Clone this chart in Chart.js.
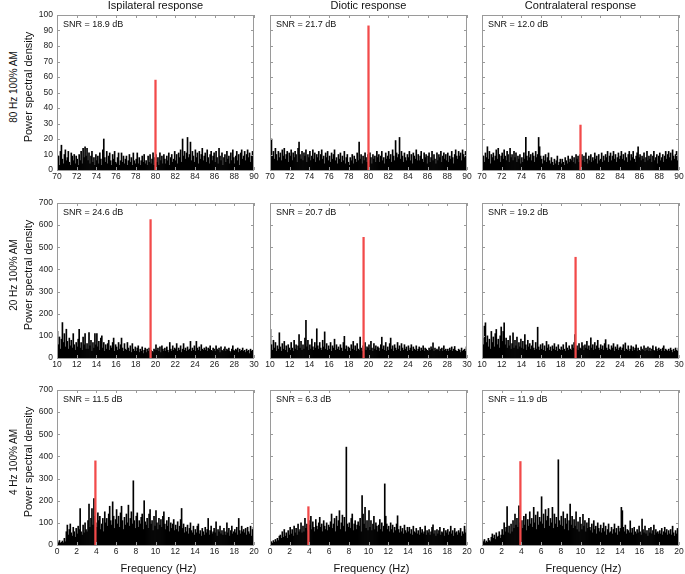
<!DOCTYPE html>
<html>
<head>
<meta charset="utf-8">
<script src="https://cdn.jsdelivr.net/npm/chart.js@4.4.1/dist/chart.umd.min.js"></script>
<style>
  body { margin: 0; background: #fff; width: 685px; height: 574px; position: relative; overflow: hidden;
         font-family: "Liberation Sans", Arial, sans-serif; color: #111; }
  canvas { position: absolute; }
  .lbl { position: absolute; white-space: nowrap; transform: translate(-50%, -50%); }
  .rot { transform: translate(-50%, -50%) rotate(-90deg); }
</style>
</head>
<body>
<script>
// column / row headings
const colTitles = ['Ispilateral response', 'Diotic response', 'Contralateral response'];
const rowTitles = ['80 Hz 100% AM', '20 Hz 100% AM', '4 Hz 100% AM'];

// frequency window of each row (Hz) and y range
const freqMin = [70, 10, 0];
const freqMax = [90, 30, 20];
const yMax = [100, 700, 700];
const yStep = [10, 100, 100];
const binWidth = 0.1;

// stimulus component (red) per row and its power per column
const peakFreq = [80, 19.5, 3.9];
const peakPsd = [
  [58, 93, 29],
  [625, 545, 455],
  [380, 173, 377]
];
const snrLabels = [
  ['SNR = 18.9 dB', 'SNR = 21.7 dB', 'SNR = 12.0 dB'],
  ['SNR = 24.6 dB', 'SNR = 20.7 dB', 'SNR = 19.2 dB'],
  ['SNR = 11.5 dB', 'SNR = 6.3 dB', 'SNR = 11.9 dB']
];

// noise spectra, one value per 0.1 Hz bin
const ipsi80 = [
  5,9,3,12,16,7,4,10,13,6, 8,12,5,3,11,9,6,10,4,9, 7,3,10,6,12,4,14,8,15,9, 14,6,11,4,9,12,5,8,3,10,
  6,9,4,11,7,3,13,20,8,5, 12,4,9,11,6,3,10,7,12,5, 4,8,11,3,6,11,5,9,4,7, 9,3,6,10,5,8,3,11,6,4,
  7,11,4,8,3,6,9,5,10,4, 6,3,9,5,10,4,7,11,3,8, 10,5,8,3,11,6,9,4,10,7, 4,9,6,11,3,8,10,5,7,12,
  6,10,4,11,8,13,5,20,9,12, 7,11,21,8,10,18,6,12,9,5, 13,8,11,4,12,7,10,14,6,9, 11,5,13,8,4,10,12,6,9,11,
  5,12,8,4,14,9,6,11,3,8, 10,5,12,7,9,4,11,6,13,8, 4,9,12,6,10,3,11,13,7,9, 12,6,10,13,8,11,5,9,12,7
];
const diotic80 = [
  13,20,9,12,7,14,10,6,12,8, 11,6,13,9,14,7,10,12,5,11, 9,13,6,11,8,12,10,5,14,18, 10,7,12,6,11,9,13,5,10,8,
  12,6,9,13,7,11,5,10,8,12, 6,10,13,7,9,4,11,8,12,6, 9,5,11,7,10,13,6,8,4,10, 7,11,5,9,6,12,4,8,10,5,
  3,8,6,10,4,9,7,5,11,6, 18,7,10,4,9,6,11,8,5,10, 6,11,8,4,10,7,9,5,12,8, 10,5,9,12,6,8,4,11,7,9,
  12,7,10,5,13,9,6,19,11,8, 10,21,7,12,9,5,11,8,6,10, 8,12,6,10,4,11,9,7,13,6, 10,6,9,12,7,5,11,8,10,4,
  9,11,5,8,12,6,10,7,4,11, 6,10,8,12,5,9,11,7,10,6, 11,5,9,7,12,8,4,10,13,9, 7,12,9,11,6,13,10,8,12,9
];
const contra80 = [
  6,9,5,11,8,15,7,12,4,10, 8,11,6,9,13,7,14,10,5,9, 11,7,13,9,6,12,10,5,14,8, 10,6,12,8,11,5,9,7,10,4,
  8,5,11,7,21,9,6,12,8,10, 6,11,9,5,12,8,10,21,15,9, 7,4,9,6,10,5,8,11,6,4, 8,5,3,7,4,6,9,3,5,7,
  4,7,5,3,8,6,4,9,5,7, 6,9,5,8,4,10,7,9,5,10, 8,10,6,9,5,11,7,4,9,6, 10,5,8,6,11,7,9,4,10,6,
  7,11,5,9,6,10,8,12,5,9, 11,6,9,12,7,10,5,8,11,7, 9,12,7,10,6,11,8,5,10,12, 6,10,8,12,7,5,9,11,15,8,
  10,6,9,7,11,5,8,12,6,9, 7,10,5,9,12,6,8,10,4,9, 11,6,8,10,5,9,12,7,10,12, 8,11,6,13,9,7,10,12,6,9
];
const ipsi20 = [
  120,60,95,40,85,160,70,110,50,130, 75,40,90,55,80,45,110,60,35,70, 50,85,130,45,70,35,95,60,110,40,
  65,40,115,55,80,30,70,45,110,60, 110,50,75,35,90,100,45,70,30,60, 40,65,80,35,55,45,70,90,30,60,
  50,35,70,40,60,90,45,30,65,40, 35,70,45,30,55,25,65,40,30,50, 30,45,55,25,40,30,50,20,35,45,
  25,40,30,45,20,35,30,25,40,35, 60,35,45,30,50,25,55,40,30,45, 30,50,35,25,70,40,30,55,35,45,
  40,65,30,45,35,55,25,40,65,35, 45,30,50,35,40,75,30,45,35,55, 30,75,45,35,50,30,60,40,35,45,
  35,50,30,45,40,55,35,30,45,40, 30,55,40,35,45,25,50,35,30,40, 50,30,40,35,45,30,25,40,55,35,
  30,40,35,45,25,40,30,35,45,30, 35,25,40,30,35,20,40,30,35,25
];
const diotic20 = [
  129,60,35,80,45,70,30,55,40,114, 50,30,65,40,75,35,55,25,60,45, 35,70,45,30,80,40,60,35,55,106,
  45,75,35,60,40,90,170,50,80,35, 60,40,85,50,35,70,45,132,55,40, 70,45,35,80,50,118,40,65,35,55,
  40,70,30,55,45,85,35,60,40,50, 35,60,45,30,70,98,40,55,30,50, 45,30,60,40,75,35,55,30,65,40,
  35,94,45,30,55,40,70,35,50,45, 60,35,75,45,30,65,40,55,35,50, 45,30,60,94,40,55,35,70,30,50,
  35,65,90,40,55,30,60,45,35,70, 40,55,30,65,45,35,60,40,50,30, 55,35,45,60,30,50,40,35,55,30,
  40,50,30,45,35,55,30,45,40,35, 30,45,35,50,40,68,30,45,35,40, 35,50,30,40,45,30,55,35,40,30,
  40,30,45,35,50,30,40,52,35,30, 30,40,35,25,45,30,35,40,30,50
];
const contra20 = [
  90,60,144,159,70,100,50,85,40,120, 70,95,50,110,129,60,85,45,100,140, 75,120,159,60,90,45,80,55,100,40,
  65,114,45,80,55,95,40,70,50,85, 45,75,40,106,60,35,80,50,65,40, 55,80,45,35,70,40,139,50,35,60,
  40,65,35,55,30,75,45,60,35,50, 30,55,40,65,35,50,30,60,40,35, 50,35,60,40,30,70,45,35,55,40,
  35,60,45,70,106,40,55,35,65,45, 40,70,55,35,60,45,75,40,55,35, 91,45,60,35,70,40,55,80,45,35,
  60,40,55,35,65,83,45,35,60,40, 35,55,45,65,30,50,40,60,35,45, 50,35,45,60,30,68,40,35,55,30,
  40,55,30,50,35,45,60,30,45,35, 30,50,40,35,55,30,45,35,50,30, 45,30,40,55,35,30,50,40,30,45,
  35,40,30,45,55,30,40,35,30,40, 30,45,35,25,40,30,45,35,30,45
];
const ipsi4 = [
  15,10,20,8,12,18,10,30,15,60, 90,45,70,95,55,40,80,60,35,75, 50,85,70,165,60,45,90,55,100,70,
  60,110,185,80,120,165,90,210,130,100, 80,145,110,130,70,95,120,60,150,100, 120,85,140,175,110,90,195,130,75,115,
  160,95,130,80,145,175,110,70,125,90, 140,100,180,85,120,150,95,290,110,75, 130,145,80,110,95,125,140,70,200,105,
  90,120,75,140,160,95,110,65,130,85, 155,100,70,120,90,115,80,130,150,95, 70,110,85,125,60,100,75,95,115,65,
  90,70,105,60,85,115,165,75,95,55, 80,60,90,50,75,100,65,55,85,45, 70,55,85,95,50,65,40,75,60,45,
  80,55,70,120,45,65,85,50,60,75, 55,105,40,70,60,85,50,65,45,75, 60,45,100,55,75,40,65,85,50,60,
  70,55,80,45,120,65,50,85,60,70, 55,75,45,80,60,50,85,40,70,80
];
const diotic4 = [
  10,15,8,20,12,25,15,30,20,40, 45,30,60,35,70,40,55,30,65,45, 80,50,70,40,85,55,75,45,95,60,
  70,100,55,85,60,120,75,95,65,110, 90,130,70,105,80,60,115,85,70,100, 125,80,95,60,110,85,70,100,65,90,
  80,105,140,75,95,120,60,130,85,110, 155,70,100,135,85,125,60,442,95,80, 100,75,120,140,65,95,110,70,90,105,
  85,120,60,223,140,95,170,75,110,65, 155,80,110,65,95,130,70,100,85,60, 90,115,70,100,60,85,276,130,95,70,
  85,60,100,70,90,55,80,65,95,132, 70,55,85,60,75,50,90,65,55,80, 60,80,50,70,45,85,60,55,75,50,
  65,45,80,55,70,50,60,85,45,65, 55,70,45,60,80,91,50,65,40,70, 50,65,80,45,60,55,75,40,65,55,
  70,45,60,85,50,65,40,75,55,60, 45,65,55,75,40,60,50,85,55,70
];
const contra4 = [
  20,15,25,10,18,12,30,20,15,35, 50,30,45,25,55,35,40,60,30,45, 70,45,100,60,80,173,55,85,50,95,
  60,110,75,140,90,120,80,177,100,70, 110,75,130,90,140,65,115,85,150,95, 120,80,170,100,135,70,150,90,125,105,
  218,95,140,75,160,110,130,165,85,120, 100,170,75,140,95,125,80,385,110,90, 130,85,150,70,120,95,140,65,110,185,
  90,130,75,115,85,150,70,105,60,125, 95,70,139,85,110,60,100,75,120,80, 65,95,55,110,70,85,50,100,75,60,
  90,55,75,100,60,85,45,70,95,55, 60,80,50,70,95,55,75,45,85,60, 75,170,155,80,60,90,50,70,65,55,
  109,55,75,45,80,60,50,70,55,85, 60,45,117,70,55,85,50,65,40,75, 55,80,50,65,90,45,70,55,60,50,
  65,50,75,45,60,80,55,70,45,65, 50,70,45,85,55,40,65,50,75,60
];

const spectra = [
  [ipsi80, diotic80, contra80],
  [ipsi20, diotic20, contra20],
  [ipsi4, diotic4, contra4]
];

// page layout of the plot boxes
const colLeft = [57, 270, 482];
const rowTop = [15, 203, 390];
const plotW = 197, plotH = 155;
const padL = 32, padT = 8, padR = 8, padB = 18;

Chart.defaults.font.family = '"Liberation Sans", Arial, sans-serif';

function addLabel(text, x, y, size, rotated) {
  const d = document.createElement('div');
  d.className = 'lbl' + (rotated ? ' rot' : '');
  d.style.left = x + 'px';
  d.style.top = y + 'px';
  d.style.fontSize = size + 'px';
  d.textContent = text;
  document.body.appendChild(d);
}

// box, inward ticks and SNR text, MATLAB style
const boxPlugin = {
  id: 'panelBox',
  afterDatasetsDraw(chart, args, opts) {
    const ctx = chart.ctx;
    const a = chart.chartArea;
    const xs = chart.scales.x, ys = chart.scales.y;
    ctx.save();
    ctx.strokeStyle = '#9a9a9a';
    ctx.lineWidth = 1;
    ctx.strokeRect(a.left + 0.5, a.top + 0.5, a.right - a.left - 1, a.bottom - a.top);
    ctx.beginPath();
    xs.ticks.forEach(t => {
      const px = Math.round(xs.getPixelForValue(t.value)) + 0.5;
      ctx.moveTo(px, a.bottom); ctx.lineTo(px, a.bottom - 3);
      ctx.moveTo(px, a.top); ctx.lineTo(px, a.top + 3);
    });
    ys.ticks.forEach(t => {
      const py = Math.round(ys.getPixelForValue(t.value)) + 0.5;
      ctx.moveTo(a.left, py); ctx.lineTo(a.left + 3, py);
      ctx.moveTo(a.right, py); ctx.lineTo(a.right - 3, py);
    });
    ctx.stroke();
    ctx.fillStyle = '#111';
    ctx.font = '9px "Liberation Sans", Arial, sans-serif';
    ctx.textBaseline = 'middle';
    ctx.fillText(opts.snr, a.left + 6, a.top + 10);
    ctx.restore();
  }
};

function makePanel(row, col) {
  const cv = document.createElement('canvas');
  cv.width = plotW + padL + padR;
  cv.height = plotH + padT + padB;
  cv.style.left = (colLeft[col] - padL) + 'px';
  cv.style.top = (rowTop[row] - padT) + 'px';
  document.body.appendChild(cv);

  const noise = spectra[row][col].map((v, i) => ({ x: freqMin[row] + binWidth / 2 + i * binWidth, y: v }));

  new Chart(cv.getContext('2d'), {
    type: 'bar',
    data: {
      datasets: [
        {
          data: [{ x: peakFreq[row], y: peakPsd[row][col] }],
          backgroundColor: '#f24a4a',
          barThickness: 1.6,
          grouped: false,
          order: 0
        },
        {
          data: noise,
          backgroundColor: '#000',
          barThickness: 1,
          grouped: false,
          order: 1
        }
      ]
    },
    options: {
      responsive: false,
      animation: false,
      events: [],
      layout: { padding: { left: 0, top: padT, right: padR, bottom: 0 } },
      plugins: {
        legend: { display: false },
        tooltip: { enabled: false },
        panelBox: { snr: snrLabels[row][col] }
      },
      scales: {
        x: {
          type: 'linear',
          min: freqMin[row],
          max: freqMax[row],
          offset: false,
          grid: { display: false, drawTicks: false },
          border: { display: false },
          ticks: { stepSize: 2, autoSkip: false, maxRotation: 0, padding: 2, color: '#222', font: { size: 8.5 } },
          afterFit: s => { s.height = padB; s.paddingLeft = 0; s.paddingRight = 0; }
        },
        y: {
          min: 0,
          max: yMax[row],
          grid: { display: false, drawTicks: false },
          border: { display: false },
          ticks: { stepSize: yStep[row], display: col === 0, padding: 4, color: '#222', font: { size: 8.5 } },
          afterFit: s => { s.width = padL; s.paddingTop = 0; s.paddingBottom = 0; }
        }
      }
    },
    plugins: [boxPlugin]
  });
}

for (let r = 0; r < 3; r++) {
  for (let c = 0; c < 3; c++) makePanel(r, c);
}

colTitles.forEach((t, c) => addLabel(t, colLeft[c] + plotW / 2, 5, 11, false));
rowTitles.forEach((t, r) => {
  addLabel(t, 13, rowTop[r] + plotH / 2 - 6, 10, true);
  addLabel('Power spectral density', 28, rowTop[r] + plotH / 2 - 6, 11, true);
});
colLeft.forEach(x => addLabel('Frequency (Hz)', x + plotW / 2 + 3, 568, 11, false));
</script>
</body>
</html>
